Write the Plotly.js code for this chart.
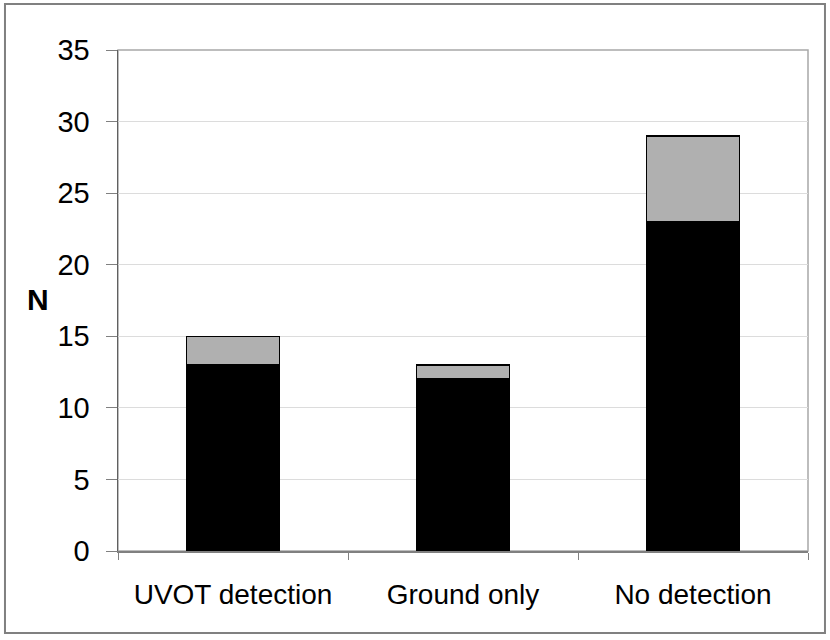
<!DOCTYPE html>
<html>
<head>
<meta charset="utf-8">
<script src="https://cdn.plot.ly/plotly-3.0.1.min.js"></script>
<style>
html,body{margin:0;padding:0;background:#fff;}
#chart{width:830px;height:640px;}
</style>
</head>
<body>
<div id="chart"></div>
<script>
var categories = ["UVOT detection", "Ground only", "No detection"];
var blackValues = [13, 12, 23];
var grayValues = [2, 1, 6];
var yTickValues = [0, 5, 10, 15, 20, 25, 30, 35];

var traces = [
  {
    type: "bar",
    name: "Series 1",
    x: categories,
    y: blackValues,
    marker: {color: "#000000", line: {color: "#000000", width: 1}}
  },
  {
    type: "bar",
    name: "Series 2",
    x: categories,
    y: grayValues,
    marker: {color: "#b0b0b0", line: {color: "#000000", width: 1.5}}
  }
];

var layout = {
  width: 830,
  height: 640,
  margin: {l: 118, r: 22, t: 50, b: 89, pad: 0},
  paper_bgcolor: "#ffffff",
  plot_bgcolor: "#ffffff",
  barmode: "stack",
  bargap: 0.595,
  showlegend: false,
  font: {family: "Liberation Sans, Arial, sans-serif", color: "#000000"},
  xaxis: {
    type: "category",
    tickson: "boundaries",
    ticks: "outside",
    ticklen: 7,
    tickwidth: 1,
    tickcolor: "#808080",
    showline: true,
    linecolor: "#808080",
    linewidth: 1.5,
    showgrid: false,
    tickfont: {size: 28, family: "Liberation Sans, Arial, sans-serif", color: "#000000"},
    ticklabelstandoff: 18
  },
  yaxis: {
    range: [0, 35],
    tickvals: yTickValues,
    ticktext: yTickValues.map(String),
    ticks: "outside",
    ticklen: 11,
    tickwidth: 1,
    tickcolor: "#808080",
    showline: true,
    linecolor: "#606060",
    linewidth: 1.5,
    showgrid: true,
    gridcolor: "#dcdcdc",
    gridwidth: 1,
    zeroline: false,
    tickfont: {size: 29, family: "Liberation Sans, Arial, sans-serif", color: "#000000"},
    ticklabelstandoff: 10
  },
  shapes: [
    {
      type: "rect", xref: "paper", yref: "paper",
      x0: 0, x1: 1, y0: 0, y1: 1,
      line: {color: "#a8a8a8", width: 1.5}, layer: "below"
    },
    {
      type: "rect", xref: "paper", yref: "paper",
      x0: -0.1638, x1: 1.0246, y0: -0.1637, y1: 1.0918,
      line: {color: "#808080", width: 2}, layer: "below"
    }
  ],
  annotations: [
    {
      text: "<b>N</b>",
      xref: "paper", yref: "paper",
      x: -0.116, y: 0.501,
      xanchor: "center", yanchor: "middle",
      showarrow: false,
      font: {size: 30, family: "Liberation Sans, Arial, sans-serif", color: "#000000"}
    }
  ]
};

Plotly.newPlot("chart", traces, layout, {displayModeBar: false, staticPlot: true});
</script>
</body>
</html>
